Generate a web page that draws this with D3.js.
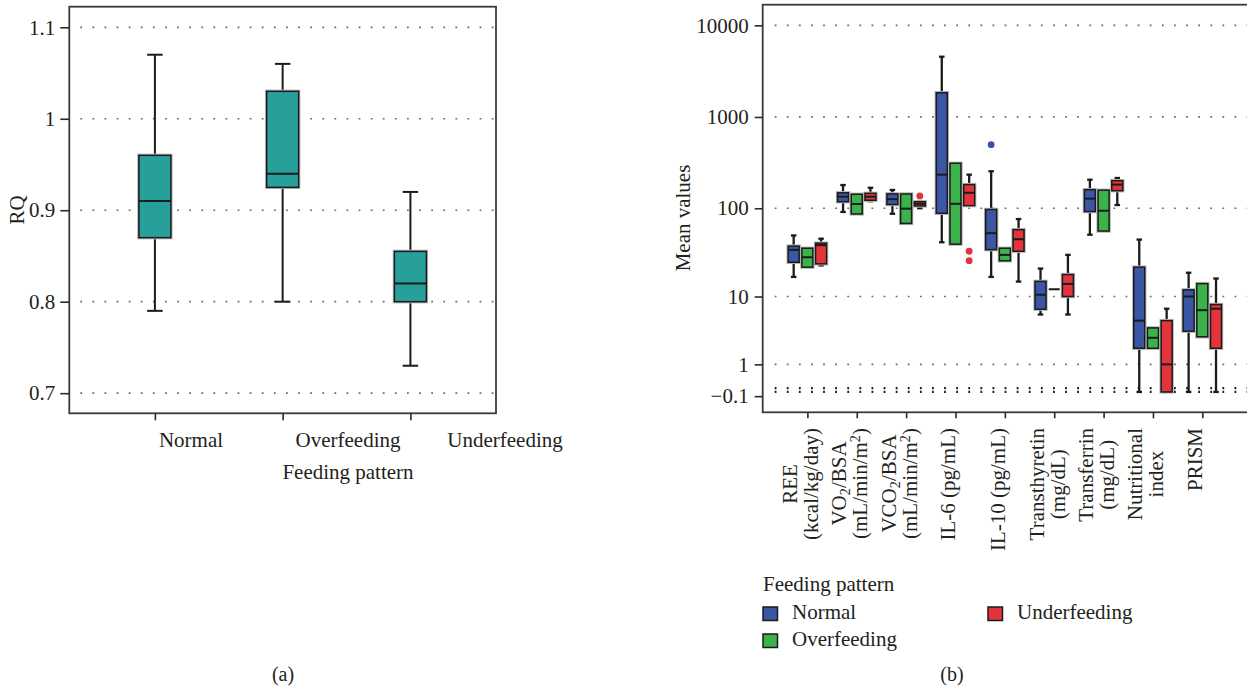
<!DOCTYPE html>
<html>
<head>
<meta charset="utf-8">
<script src="https://cdn.jsdelivr.net/npm/d3@7"></script>
<style>
  body { margin: 0; background: #fff; }
  svg { display: block; }
  text { font-family: "Liberation Serif", "Times New Roman", serif; fill: #231f20; }
</style>
</head>
<body>
<svg id="fig" width="1247" height="689"></svg>
<script>
// ---------- Panel (a): respiratory quotient by feeding pattern ----------
const rqCategories = ["Normal", "Overfeeding", "Underfeeding"];
const rqWhiskerLow  = [0.79, 0.80, 0.73];
const rqQ1          = [0.87, 0.925, 0.80];
const rqMedian      = [0.91, 0.94, 0.82];
const rqQ3          = [0.96, 1.03, 0.855];
const rqWhiskerHigh = [1.07, 1.06, 0.92];
const rqTicks = [0.7, 0.8, 0.9, 1.0, 1.1];

// ---------- Panel (b): clinical variables by feeding pattern ----------
const variables = ["REE", "VO2/BSA", "VCO2/BSA", "IL-6", "IL-10",
                   "Transthyretin", "Transferrin", "Nutritional index", "PRISM"];
// label lines; _n = subscript digit, ^n = superscript digit
const variableLabels = [
  ["REE", "(kcal/kg/day)"],
  ["VO_2/BSA", "(mL/min/m^2)"],
  ["VCO_2/BSA", "(mL/min/m^2)"],
  ["IL-6 (pg/mL)"],
  ["IL-10 (pg/mL)"],
  ["Transthyretin", "(mg/dL)"],
  ["Transferrin", "(mg/dL)"],
  ["Nutritional", "index"],
  ["PRISM"]
];
const groups = ["Normal", "Overfeeding", "Underfeeding"];
const groupColors = ["#3a56a5", "#3bb34a", "#e3343c"];

// [lower whisker, Q1, median, Q3, upper whisker] for each variable
const normalStats = [
  [17, 25, 34.5, 38, 50],
  [91, 118, 134, 148, 180],
  [87, 110, 126, 144, 159],
  [42, 88, 234, 1840, 4545],
  [17, 34.7, 53, 97, 255],
  [6, 7, 10.5, 15.1, 21.2],
  [51, 92, 127.5, 160, 206],
  [0, 2, 5, 22, 45],
  [0, 3.6, 10, 12, 19]
];
const overfeedingStats = [
  [22, 22, 28.5, 36, 36],
  [86.5, 86.5, 111.5, 142.6, 142.6],
  [68, 68, 99, 143.6, 143.6],
  [40, 40, 112, 312, 312],
  [26, 26, 30.3, 36, 36],
  [12.2, 12.2, 12.2, 12.2, 12.2],
  [56, 56, 94, 158, 158],
  [2, 2, 2.9, 4, 4],
  [3, 3, 6.8, 14.2, 14.2]
];
const underfeedingStats = [
  [23, 24, 39, 41, 46],
  [119.5, 122.5, 134, 146, 168],
  [100, 106, 112, 118, 120],
  [107, 107, 148, 182, 234],
  [15, 33.3, 45.4, 58, 76],
  [6, 10, 14.1, 18.1, 30.3],
  [108.6, 156, 182, 201, 215],
  [0, 0, 1, 5, 7.1],
  [0, 2, 7.1, 8, 16.3]
];
const outlierGroup    = ["Normal", "Underfeeding", "Underfeeding", "Underfeeding"];
const outlierVariable = ["IL-10", "VCO2/BSA", "IL-6", "IL-6"];
const outlierValue    = [498, 136.6, 33.3, 26.1];

const meanTicks = [10000, 1000, 100, 10, 1, -0.1];
const meanTickLabels = ["10000", "1000", "100", "10", "1", "\u22120.1"];
const meanGrid = [10000, 1000, 100, 10, 1, 0.1, 0];
const meanDomain = [-0.4, 16800];

// ---------- layout ----------
const svg = d3.select("#fig");
const A = { left: 69.3, right: 496, top: 6.7, bottom: 413.3 };
const B = { left: 762.7, right: 1247, top: 4.7, bottom: 412.3 };
const FONT = 21;

const xA = d3.scalePoint().domain(rqCategories).range([A.left, A.right]).padding(0.67);
// category names under panel (a) sit on their own, wider spacing
const xALabel = d3.scalePoint().domain(rqCategories).range([191, 505]);
const yA = d3.scaleLinear().domain([0.678, 1.1225]).range([A.bottom, A.top]);

const xB = d3.scalePoint().domain(variables).range([B.left, B.right]).padding(0.905);
// values are plotted as log10(value + 1)
const yLog = d3.scaleLog().domain(meanDomain.map(v => v + 1)).range([B.bottom, B.top]);
const yB = v => yLog(v + 1);
const groupOffset = d3.scalePoint().domain(groups).range([-13.7, 13.7]);

function dottedLine(g, x1, x2, y, color, width) {
  g.append("line")
    .attr("x1", x1).attr("x2", x2).attr("y1", y).attr("y2", y)
    .attr("stroke", color).attr("stroke-width", width)
    .attr("stroke-dasharray", "1.8,10.3");
}

function drawBox(g, cx, w, s, color, capW, lineW) {
  const [lo, q1, med, q3, hi] = s.map(s.y);
  const stroke = "#1b1b1b";
  if (Math.abs(lo - q1) > 0.5) {
    g.append("line").attr("x1", cx).attr("x2", cx).attr("y1", q1).attr("y2", lo)
      .attr("stroke", stroke).attr("stroke-width", lineW);
    g.append("line").attr("x1", cx - capW / 2).attr("x2", cx + capW / 2).attr("y1", lo).attr("y2", lo)
      .attr("stroke", stroke).attr("stroke-width", lineW);
  }
  if (Math.abs(hi - q3) > 0.5) {
    g.append("line").attr("x1", cx).attr("x2", cx).attr("y1", q3).attr("y2", hi)
      .attr("stroke", stroke).attr("stroke-width", lineW);
    g.append("line").attr("x1", cx - capW / 2).attr("x2", cx + capW / 2).attr("y1", hi).attr("y2", hi)
      .attr("stroke", stroke).attr("stroke-width", lineW);
  }
  const top = Math.min(q1, q3), h = Math.abs(q1 - q3);
  if (h > 0.3) {
    g.append("rect").attr("x", cx - w / 2).attr("y", top).attr("width", w).attr("height", h)
      .attr("fill", "none").attr("stroke", "#b5b5b5").attr("stroke-width", 3.4);
    g.append("rect").attr("x", cx - w / 2).attr("y", top).attr("width", w).attr("height", h)
      .attr("fill", color).attr("stroke", stroke).attr("stroke-width", 1.5);
  }
  g.append("line").attr("x1", cx - w / 2).attr("x2", cx + w / 2).attr("y1", med).attr("y2", med)
    .attr("stroke", stroke).attr("stroke-width", 2);
}

// ---------- Panel (a) ----------
const gA = svg.append("g");
rqTicks.forEach(t => dottedLine(gA, A.left + 11, A.right, yA(t), "#6b6b6b", 1.7));

rqCategories.forEach((c, i) => {
  const s = [rqWhiskerLow[i], rqQ1[i], rqMedian[i], rqQ3[i], rqWhiskerHigh[i]];
  s.y = yA;
  drawBox(gA, xA(c), 32, s, "#27a09b", 15.5, 2);
});

gA.append("rect").attr("x", A.left).attr("y", A.top)
  .attr("width", A.right - A.left).attr("height", A.bottom - A.top)
  .attr("fill", "none").attr("stroke", "#3a3a3a").attr("stroke-width", 1.8);

const axAy = gA.append("g").attr("transform", `translate(${A.left},0)`)
  .call(d3.axisLeft(yA).tickValues(rqTicks).tickSize(9).tickPadding(5).tickFormat(d => String(d)));
const axAx = gA.append("g").attr("transform", `translate(0,${A.bottom})`)
  .call(d3.axisBottom(xA).tickSize(7).tickFormat(""));
[axAy, axAx].forEach(ax => {
  ax.select(".domain").remove();
  ax.selectAll(".tick line").attr("stroke", "#2a2a2a").attr("stroke-width", 1.6);
  ax.selectAll(".tick text").attr("font-size", FONT).attr("font-family", null).attr("fill", "#231f20");
});

gA.append("g").selectAll("text").data(rqCategories).join("text")
  .attr("x", d => xALabel(d)).attr("y", 447)
  .attr("text-anchor", "middle").attr("font-size", FONT).text(d => d);

gA.append("text").attr("transform", "translate(24,210) rotate(-90)")
  .attr("text-anchor", "middle").attr("font-size", FONT).text("RQ");
gA.append("text").attr("x", 348).attr("y", 479)
  .attr("text-anchor", "middle").attr("font-size", FONT).text("Feeding pattern");
gA.append("text").attr("x", 283).attr("y", 681)
  .attr("text-anchor", "middle").attr("font-size", FONT - 1).text("(a)");

// ---------- Panel (b) ----------
const gB = svg.append("g");
meanGrid.forEach(t => {
  const dark = t < 1;
  dottedLine(gB, B.left + 12, B.right, yB(t), dark ? "#1e1e1e" : "#6b6b6b", dark ? 2.2 : 1.7);
});

const statsByGroup = [normalStats, overfeedingStats, underfeedingStats];
groups.forEach((grp, gi) => {
  variables.forEach((v, vi) => {
    const s = statsByGroup[gi][vi].slice();
    s.y = yB;
    drawBox(gB, xB(v) + groupOffset(grp), 11, s, groupColors[gi], 5.5, 2.3);
  });
});

outlierValue.forEach((val, i) => {
  gB.append("circle")
    .attr("cx", xB(outlierVariable[i]) + groupOffset(outlierGroup[i]))
    .attr("cy", yB(val)).attr("r", 3.4)
    .attr("fill", groupColors[groups.indexOf(outlierGroup[i])]);
});

gB.append("rect").attr("x", B.left).attr("y", B.top)
  .attr("width", B.right + 2 - B.left).attr("height", B.bottom - B.top)
  .attr("fill", "none").attr("stroke", "#3a3a3a").attr("stroke-width", 1.8);

const axBy = gB.append("g").attr("transform", `translate(${B.left},0)`)
  .call(d3.axisLeft(yLog).tickValues(meanTicks.map(v => v + 1)).tickSize(8).tickPadding(6)
        .tickFormat((d, i) => meanTickLabels[i]));
const axBx = gB.append("g").attr("transform", `translate(0,${B.bottom})`)
  .call(d3.axisBottom(xB).tickSize(6).tickFormat(""));
[axBy, axBx].forEach(ax => {
  ax.select(".domain").remove();
  ax.selectAll(".tick line").attr("stroke", "#2a2a2a").attr("stroke-width", 1.6);
  ax.selectAll(".tick text").attr("font-size", FONT).attr("font-family", null).attr("fill", "#231f20");
});

function richText(sel, str) {
  const parts = str.split(/([_^]\d)/).filter(p => p.length);
  let shift = 0;
  parts.forEach(p => {
    const t = sel.append("tspan");
    if (p[0] === "_" || p[0] === "^") {
      const s = p[0] === "_" ? 4 : -7;
      t.attr("dy", s - shift).attr("font-size", "0.68em").text(p.slice(1));
      shift = s;
    } else {
      t.attr("dy", -shift).text(p);
      shift = 0;
    }
  });
}

// rotated multi-line variable names, lines centred on each other
const labelTop = 428, lineGap = 21;
variables.forEach((v, vi) => {
  const lines = variableLabels[vi];
  const g = gB.append("g").attr("transform", `translate(${xB(v)},${labelTop}) rotate(-90)`);
  const texts = lines.map((ln, li) => {
    const t = g.append("text").attr("font-size", FONT).attr("text-anchor", "middle")
      .attr("y", (li - (lines.length - 1) / 2) * lineGap).attr("dy", "0.35em");
    richText(t, ln);
    return t;
  });
  const maxLen = d3.max(texts, t => t.node().getComputedTextLength());
  texts.forEach(t => t.attr("x", -maxLen / 2));
});

gB.append("text").attr("transform", "translate(690,218) rotate(-90)")
  .attr("text-anchor", "middle").attr("font-size", FONT).text("Mean values");

// legend
const legend = gB.append("g");
legend.append("text").attr("x", 763).attr("y", 591).attr("font-size", FONT).text("Feeding pattern");
const legendPos = [[763, 607], [763, 634], [988, 607]];
groups.forEach((grp, gi) => {
  const [lx, ly] = legendPos[gi];
  legend.append("rect").attr("x", lx).attr("y", ly).attr("width", 14.5).attr("height", 13.5)
    .attr("fill", groupColors[gi]).attr("stroke", "#1b1b1b").attr("stroke-width", 1.5);
  legend.append("text").attr("x", lx + 29).attr("y", ly + 11.5).attr("font-size", FONT).text(grp);
});

gB.append("text").attr("x", 952).attr("y", 681)
  .attr("text-anchor", "middle").attr("font-size", FONT - 1).text("(b)");
</script>
</body>
</html>
